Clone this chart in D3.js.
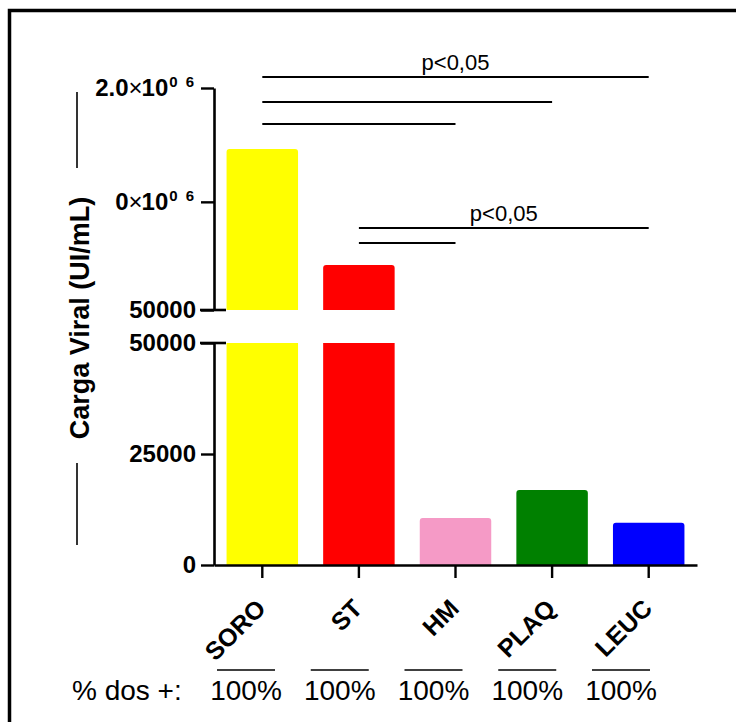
<!DOCTYPE html>
<html>
<head>
<meta charset="utf-8">
<script src="https://cdn.jsdelivr.net/npm/d3@7"></script>
<style>
  body { margin: 0; background: #fff; }
  svg { display: block; font-family: Arial, "Liberation Sans", sans-serif; }
</style>
</head>
<body>
<div id="chart"></div>
<script>
// data
const categories = ["SORO", "ST", "HM", "PLAQ", "LEUC"];
const values = [1464000, 445000, 10600, 16900, 9500];
const positives = ["100%", "100%", "100%", "100%", "100%"];
const lowerTicks = [0, 25000, 50000];
const upperTicks = [50000, 1000000, 2000000];
const comparisons = [["SORO", "LEUC"], ["SORO", "PLAQ"], ["SORO", "HM"], ["ST", "LEUC"], ["ST", "HM"]];
const compLabels = ["p<0,05", "", "", "p<0,05", ""];
const barColors = ["#ffff00", "#ff0000", "#f59ac6", "#008000", "#0000ff"];

const W = 736, H = 722;
const breakValue = 50000;

const svg = d3.select("#chart").append("svg")
    .attr("width", W)
    .attr("height", H);

// outer frame (only left and top edges are inside the page)
svg.append("rect")
    .attr("x", 9.5).attr("y", 10.5)
    .attr("width", 900).attr("height", 900)
    .attr("fill", "none")
    .attr("stroke", "#000")
    .attr("stroke-width", 3.5);

const x = d3.scaleBand()
    .domain(categories)
    .range([214, 697])
    .paddingInner(0.26)
    .paddingOuter(0.13);

const yLow = d3.scaleLinear().domain([0, breakValue]).range([565, 343]);
const yHigh = d3.scaleLinear().domain([breakValue, 2000000]).range([310, 88]);

const color = d3.scaleOrdinal(categories, barColors);
const cx = d => x(d) + x.bandwidth() / 2;

function roundTop(x0, y0, w, h, r) {
    return `M${x0},${y0 + h}V${y0 + r}Q${x0},${y0} ${x0 + r},${y0}H${x0 + w - r}Q${x0 + w},${y0} ${x0 + w},${y0 + r}V${y0 + h}Z`;
}

// bars
const bars = svg.append("g");
categories.forEach((c, i) => {
    const v = values[i];
    const bw = x.bandwidth();
    if (v > breakValue) {
        bars.append("rect")
            .attr("x", x(c)).attr("y", yLow(breakValue))
            .attr("width", bw).attr("height", yLow(0) - yLow(breakValue))
            .attr("fill", color(c));
        bars.append("path")
            .attr("d", roundTop(x(c), yHigh(v), bw, yHigh(breakValue) - yHigh(v), 3))
            .attr("fill", color(c));
    } else {
        bars.append("path")
            .attr("d", roundTop(x(c), yLow(v), bw, yLow(0) - yLow(v), 3))
            .attr("fill", color(c));
    }
});

// y axes (two segments)
const axisLow = svg.append("g")
    .attr("transform", "translate(214,0)")
    .call(d3.axisLeft(yLow).tickValues(lowerTicks).tickSize(13).tickSizeOuter(0).tickPadding(5)
        .tickFormat(d3.format("d")));

const axisHigh = svg.append("g")
    .attr("transform", "translate(214,0)")
    .call(d3.axisLeft(yHigh).tickValues(upperTicks).tickSize(13).tickSizeOuter(0).tickPadding(5)
        .tickFormat(d3.format("d")));

[axisLow, axisHigh].forEach(g => {
    g.selectAll("path.domain").attr("stroke-width", 2.6);
    g.selectAll(".tick line").attr("stroke-width", 2.4);
    g.selectAll(".tick text")
        .attr("font-size", 24)
        .attr("font-weight", "bold")
        .attr("fill", "#000");
});

// GraphPad style exponent labels on the upper segment
const sciLabels = { 1000000: "0", 2000000: "2.0" };
axisHigh.selectAll(".tick text").each(function(d) {
    if (!sciLabels[d]) return;
    const t = d3.select(this).text(null).attr("font-size", 24).attr("x", -20);
    t.append("tspan").text(sciLabels[d]);
    t.append("tspan").attr("font-size", 24).attr("font-weight", "normal").text("\u00d7");
    t.append("tspan").attr("dx", -1).text("10");
    t.append("tspan").attr("font-size", 15).attr("dy", -9).attr("dx", 1).text("0");
    t.append("tspan").attr("font-size", 15).attr("dx", 8).text("6");
});

// break caps
[yHigh(breakValue), yLow(breakValue)].forEach(yy => {
    svg.append("line")
        .attr("x1", 200).attr("x2", 226)
        .attr("y1", yy).attr("y2", yy)
        .attr("stroke", "#000").attr("stroke-width", 2.6);
});

// x axis
const xAxis = svg.append("g")
    .attr("transform", `translate(0,${yLow(0)})`)
    .call(d3.axisBottom(x).tickSize(13).tickSizeOuter(0).tickFormat(""));
xAxis.select("path.domain").attr("stroke-width", 2.6);
xAxis.selectAll(".tick line").attr("stroke-width", 2.4);

// category labels
svg.append("g").selectAll("text")
    .data(categories)
    .join("text")
    .attr("transform", d => `translate(${cx(d) + 5},${610}) rotate(-45)`)
    .attr("text-anchor", "end")
    .attr("font-size", 25)
    .attr("font-weight", "bold")
    .text(d => d);

// y title with GraphPad legend strokes
svg.append("text")
    .attr("transform", "translate(89,318) rotate(-90)")
    .attr("text-anchor", "middle")
    .attr("font-size", 27)
    .attr("font-weight", "bold")
    .text("Carga Viral (UI/mL)");
[[92, 168], [463, 545]].forEach(([a, b]) => {
    svg.append("line")
        .attr("x1", 77).attr("x2", 77).attr("y1", a).attr("y2", b)
        .attr("stroke", "#000").attr("stroke-width", 1.6);
});

// significance bars
const compY = [77, 102, 124, 228, 243];
comparisons.forEach(([a, b], i) => {
    svg.append("line")
        .attr("x1", cx(a)).attr("x2", cx(b))
        .attr("y1", compY[i]).attr("y2", compY[i])
        .attr("stroke", "#000").attr("stroke-width", 2.2);
    if (compLabels[i]) {
        svg.append("text")
            .attr("x", (cx(a) + cx(b)) / 2)
            .attr("y", compY[i] - 7)
            .attr("text-anchor", "middle")
            .attr("font-size", 22)
            .text(compLabels[i]);
    }
});

// "% dos +" row
const xp = d3.scalePoint().domain(categories).range([246, 621]);
svg.append("text")
    .attr("x", 72).attr("y", 700)
    .attr("font-size", 28)
    .attr("xml:space", "preserve")
    .text("% dos +:");
categories.forEach((c, i) => {
    svg.append("line")
        .attr("x1", xp(c) - 29).attr("x2", xp(c) + 29)
        .attr("y1", 670).attr("y2", 670)
        .attr("stroke", "#000").attr("stroke-width", 1.6);
    svg.append("text")
        .attr("x", xp(c)).attr("y", 700)
        .attr("text-anchor", "middle")
        .attr("font-size", 28)
        .text(positives[i]);
});
</script>
</body>
</html>
